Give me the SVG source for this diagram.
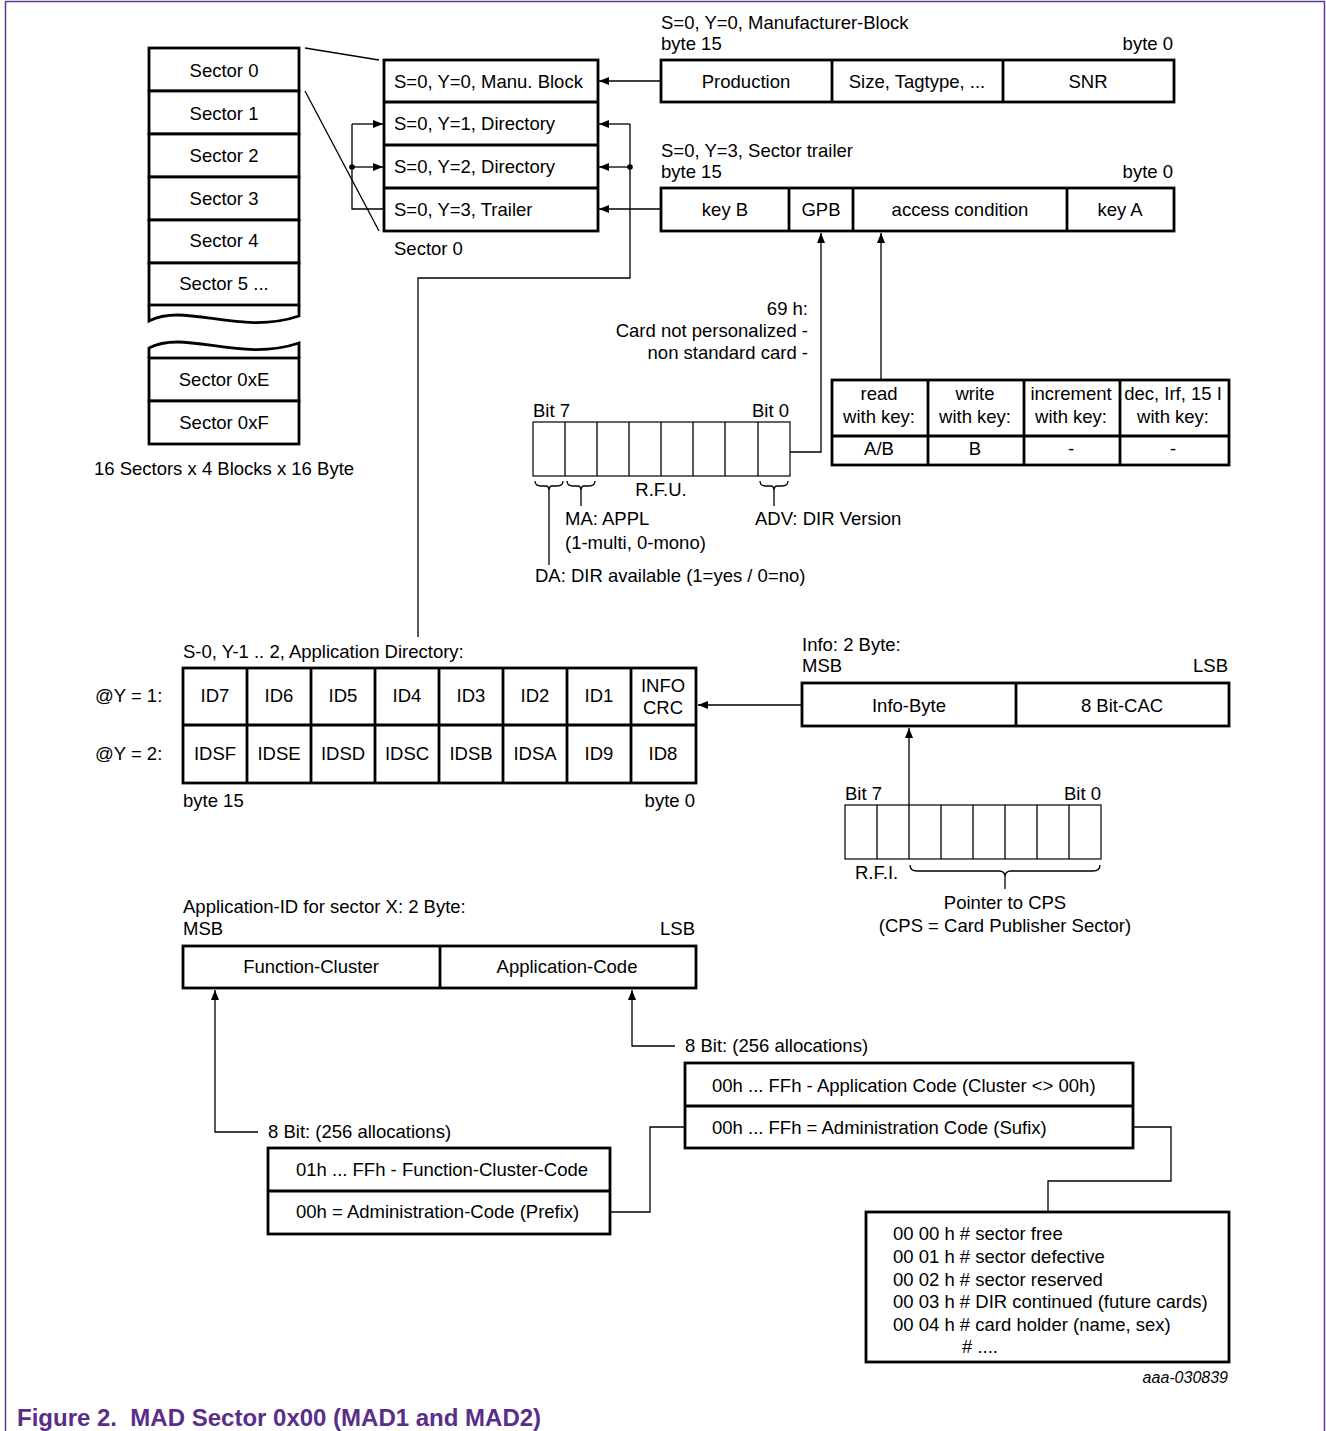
<svg xmlns="http://www.w3.org/2000/svg" width="1326" height="1431" viewBox="0 0 1326 1431">
<defs>
<marker id="ah" viewBox="0 0 10 8" refX="10" refY="4" markerWidth="10" markerHeight="8" markerUnits="userSpaceOnUse" orient="auto">
<path d="M0,0 L10,4 L0,8 Z" fill="#000"/>
</marker>
<style>
text{font-family:"Liberation Sans",Arial,sans-serif;font-size:18.5px;fill:#000}
.m{text-anchor:middle}
.e{text-anchor:end}
.bx{fill:#fff;stroke:#000;stroke-width:2.8}
.dv{stroke:#000;stroke-width:2.8;fill:none}
.th{fill:#fff;stroke:#000;stroke-width:1.2}
.ln{stroke:#000;stroke-width:1.3;fill:none}
.ar{stroke:#000;stroke-width:1.3;fill:none;marker-end:url(#ah)}
.fr{stroke:#5b3a8e;stroke-width:1.5;fill:none}
</style>
</defs>
<rect width="1326" height="1431" fill="#fff"/>
<path class="fr" d="M5.5,1431 V1.5 H1324.5 V1431"/>

<g id="connectors">
<line class="ln" x1="305" y1="48" x2="379" y2="60"/>
<line class="ln" x1="305" y1="91" x2="379" y2="231"/>
<path class="ln" d="M384,209 H352 V124"/>
<line class="ar" x1="352" y1="124" x2="383" y2="124"/>
<line class="ar" x1="352" y1="167" x2="383" y2="167"/>
<circle cx="352" cy="167" r="2.8" fill="#000"/>
<path class="ln" d="M418,637 V278 H630 V124"/>
<line class="ar" x1="630" y1="124" x2="599" y2="124"/>
<line class="ar" x1="630" y1="167" x2="599" y2="167"/>
<circle cx="630" cy="167" r="2.8" fill="#000"/>
<line class="ar" x1="661" y1="81" x2="599" y2="81"/>
<line class="ar" x1="661" y1="209" x2="599" y2="209"/>
<path class="ar" d="M790,452 H821 V233"/>
<line class="ar" x1="881" y1="380" x2="881" y2="233"/>
<line class="ar" x1="802" y1="705" x2="698" y2="705"/>
<line class="ar" x1="909" y1="805" x2="909" y2="728"/>
<path class="ar" d="M675,1046 H632 V990"/>
<path class="ar" d="M258,1132 H215 V990"/>
<path class="ln" d="M610,1212 H650 V1127 H685"/>
<path class="ln" d="M1133,1127 H1171 V1181 H1048 V1212"/>
</g>

<g id="sector-stack">
<rect class="bx" x="149" y="48" width="150" height="43"/>
<rect class="bx" x="149" y="91" width="150" height="43"/>
<rect class="bx" x="149" y="134" width="150" height="43"/>
<rect class="bx" x="149" y="177" width="150" height="43"/>
<rect class="bx" x="149" y="220" width="150" height="43"/>
<rect class="bx" x="149" y="263" width="150" height="42"/>
<path class="dv" d="M149,305 V321 C185,302 240,336 299,316 V305"/>
<path class="dv" d="M149,358 V348 C185,329 240,363 299,343 V358"/>
<rect class="bx" x="149" y="358" width="150" height="43"/>
<rect class="bx" x="149" y="401" width="150" height="43"/>
<text class="m" x="224" y="76.5">Sector 0</text>
<text class="m" x="224" y="119.5">Sector 1</text>
<text class="m" x="224" y="161.5">Sector 2</text>
<text class="m" x="224" y="204.5">Sector 3</text>
<text class="m" x="224" y="246.5">Sector 4</text>
<text class="m" x="224" y="289.5">Sector 5 ...</text>
<text class="m" x="224" y="385.5">Sector 0xE</text>
<text class="m" x="224" y="428.5">Sector 0xF</text>
<text class="m" x="224" y="474.5">16 Sectors x 4 Blocks x 16 Byte</text>
</g>

<g id="sector0-blocks">
<rect class="bx" x="384" y="60" width="214" height="171"/>
<line class="dv" x1="384" y1="102" x2="598" y2="102"/>
<line class="dv" x1="384" y1="145" x2="598" y2="145"/>
<line class="dv" x1="384" y1="188" x2="598" y2="188"/>
<text x="394" y="87.5">S=0, Y=0, Manu. Block</text>
<text x="394" y="129.5">S=0, Y=1, Directory</text>
<text x="394" y="172.5">S=0, Y=2, Directory</text>
<text x="394" y="215.5">S=0, Y=3, Trailer</text>
<text x="394" y="254.5">Sector 0</text>
</g>

<g id="manufacturer-block">
<text x="661" y="28.5">S=0, Y=0, Manufacturer-Block</text>
<text x="661" y="49.5">byte 15</text>
<text class="e" x="1173" y="49.5">byte 0</text>
<rect class="bx" x="661" y="60" width="513" height="42"/>
<line class="dv" x1="832" y1="60" x2="832" y2="102"/>
<line class="dv" x1="1003" y1="60" x2="1003" y2="102"/>
<text class="m" x="746" y="87.5">Production</text>
<text class="m" x="917" y="87.5">Size, Tagtype, ...</text>
<text class="m" x="1088" y="87.5">SNR</text>
</g>

<g id="sector-trailer">
<text x="661" y="156.5">S=0, Y=3, Sector trailer</text>
<text x="661" y="177.5">byte 15</text>
<text class="e" x="1173" y="177.5">byte 0</text>
<rect class="bx" x="661" y="188" width="513" height="43"/>
<line class="dv" x1="789" y1="188" x2="789" y2="231"/>
<line class="dv" x1="853" y1="188" x2="853" y2="231"/>
<line class="dv" x1="1067" y1="188" x2="1067" y2="231"/>
<text class="m" x="725" y="215.5">key B</text>
<text class="m" x="821" y="215.5">GPB</text>
<text class="m" x="960" y="215.5">access condition</text>
<text class="m" x="1120" y="215.5">key A</text>
</g>

<g id="gpb-note">
<text class="e" x="808" y="314.5">69 h:</text>
<text class="e" x="808" y="336.5">Card not personalized -</text>
<text class="e" x="808" y="358.5">non standard card -</text>
</g>

<g id="access-table">
<rect class="bx" x="832" y="380" width="397" height="85"/>
<line class="dv" x1="832" y1="436" x2="1229" y2="436"/>
<line class="dv" x1="928" y1="380" x2="928" y2="465"/>
<line class="dv" x1="1024" y1="380" x2="1024" y2="465"/>
<line class="dv" x1="1120" y1="380" x2="1120" y2="465"/>
<text class="m" x="879" y="400">read</text>
<text class="m" x="879" y="423">with key:</text>
<text class="m" x="975" y="400">write</text>
<text class="m" x="975" y="423">with key:</text>
<text class="m" x="1071" y="400">increment</text>
<text class="m" x="1071" y="423">with key:</text>
<text class="m" x="1173" y="400">dec, Irf, 15 I</text>
<text class="m" x="1173" y="423">with key:</text>
<text class="m" x="879" y="455">A/B</text>
<text class="m" x="975" y="455">B</text>
<text class="m" x="1071" y="455">-</text>
<text class="m" x="1173" y="455">-</text>
</g>

<g id="gpb-bits">
<text x="533" y="416.5">Bit 7</text>
<text class="e" x="789" y="416.5">Bit 0</text>
<rect class="th" x="533" y="422" width="257" height="54"/>
<path class="ln" d="M565,422V476M597,422V476M629,422V476M661,422V476M693,422V476M725,422V476M758,422V476"/>
<path class="ln" d="M535,481 Q535,486 541,486 L546,486 Q549,486 549,491 Q549,486 552,486 L557,486 Q563,486 563,481"/>
<path class="ln" d="M567,481 Q567,486 573,486 L578,486 Q581,486 581,491 Q581,486 584,486 L589,486 Q595,486 595,481"/>
<path class="ln" d="M760,481 Q760,486 766,486 L771,486 Q774,486 774,491 Q774,486 777,486 L782,486 Q788,486 788,481"/>
<line class="ln" x1="549" y1="491" x2="549" y2="565"/>
<line class="ln" x1="581" y1="491" x2="581" y2="506"/>
<line class="ln" x1="774" y1="491" x2="774" y2="506"/>
<text class="m" x="661" y="495.5">R.F.U.</text>
<text x="565" y="524.5">MA: APPL</text>
<text x="565" y="548.5">(1-multi, 0-mono)</text>
<text x="755" y="524.5">ADV: DIR Version</text>
<text x="535" y="581.5">DA: DIR available (1=yes / 0=no)</text>
</g>

<g id="application-directory">
<text x="183" y="657.5">S-0, Y-1 .. 2, Application Directory:</text>
<text x="95" y="701.5">@Y = 1:</text>
<text x="95" y="759.5">@Y = 2:</text>
<rect class="bx" x="183" y="668" width="513" height="115"/>
<line class="dv" x1="183" y1="725" x2="696" y2="725"/>
<path class="dv" d="M247,668V783M311,668V783M375,668V783M439,668V783M503,668V783M567,668V783M631,668V783"/>
<text class="m" x="215" y="701.5">ID7</text>
<text class="m" x="279" y="701.5">ID6</text>
<text class="m" x="343" y="701.5">ID5</text>
<text class="m" x="407" y="701.5">ID4</text>
<text class="m" x="471" y="701.5">ID3</text>
<text class="m" x="535" y="701.5">ID2</text>
<text class="m" x="599" y="701.5">ID1</text>
<text class="m" x="663" y="691.5">INFO</text>
<text class="m" x="663" y="713.5">CRC</text>
<text class="m" x="215" y="759.5">IDSF</text>
<text class="m" x="279" y="759.5">IDSE</text>
<text class="m" x="343" y="759.5">IDSD</text>
<text class="m" x="407" y="759.5">IDSC</text>
<text class="m" x="471" y="759.5">IDSB</text>
<text class="m" x="535" y="759.5">IDSA</text>
<text class="m" x="599" y="759.5">ID9</text>
<text class="m" x="663" y="759.5">ID8</text>
<text x="183" y="806.5">byte 15</text>
<text class="e" x="695" y="806.5">byte 0</text>
</g>

<g id="info-bytes">
<text x="802" y="650.5">Info: 2 Byte:</text>
<text x="802" y="671.5">MSB</text>
<text class="e" x="1228" y="671.5">LSB</text>
<rect class="bx" x="802" y="683" width="427" height="43"/>
<line class="dv" x1="1016" y1="683" x2="1016" y2="726"/>
<text class="m" x="909" y="711.5">Info-Byte</text>
<text class="m" x="1122" y="711.5">8 Bit-CAC</text>
</g>

<g id="info-bits">
<text x="845" y="799.5">Bit 7</text>
<text class="e" x="1101" y="799.5">Bit 0</text>
<rect class="th" x="845" y="805" width="256" height="54"/>
<path class="ln" d="M877,805V859M909,805V859M941,805V859M973,805V859M1005,805V859M1037,805V859M1069,805V859"/>
<path class="ln" d="M910,865 Q910,871 917,871 L999,871 Q1005,871 1005,877 Q1005,871 1011,871 L1093,871 Q1100,871 1100,865"/>
<line class="ln" x1="1005" y1="877" x2="1005" y2="889"/>
<text x="855" y="878.5">R.F.I.</text>
<text class="m" x="1005" y="908.5">Pointer to CPS</text>
<text class="m" x="1005" y="931.5">(CPS = Card Publisher Sector)</text>
</g>

<g id="application-id">
<text x="183" y="912.5">Application-ID for sector X: 2 Byte:</text>
<text x="183" y="934.5">MSB</text>
<text class="e" x="695" y="934.5">LSB</text>
<rect class="bx" x="183" y="946" width="513" height="42"/>
<line class="dv" x1="440" y1="946" x2="440" y2="988"/>
<text class="m" x="311" y="972.5">Function-Cluster</text>
<text class="m" x="567" y="972.5">Application-Code</text>
</g>

<g id="application-code">
<text x="685" y="1051.5">8 Bit: (256 allocations)</text>
<rect class="bx" x="685" y="1063" width="448" height="85"/>
<line class="dv" x1="685" y1="1106" x2="1133" y2="1106"/>
<text x="712" y="1091.5">00h ... FFh - Application Code (Cluster &lt;&gt; 00h)</text>
<text x="712" y="1133.5">00h ... FFh = Administration Code (Sufix)</text>
</g>

<g id="function-cluster">
<text x="268" y="1137.5">8 Bit: (256 allocations)</text>
<rect class="bx" x="268" y="1148" width="342" height="86"/>
<line class="dv" x1="268" y1="1191" x2="610" y2="1191"/>
<text x="296" y="1175.5">01h ... FFh - Function-Cluster-Code</text>
<text x="296" y="1217.5">00h = Administration-Code (Prefix)</text>
</g>

<g id="admin-codes">
<rect class="bx" x="866" y="1212" width="363" height="150"/>
<text x="893" y="1239.5">00 00 h # sector free</text>
<text x="893" y="1262.5">00 01 h # sector defective</text>
<text x="893" y="1285.5">00 02 h # sector reserved</text>
<text x="893" y="1307.5">00 03 h # DIR continued (future cards)</text>
<text x="893" y="1330.5">00 04 h # card holder (name, sex)</text>
<text x="962" y="1352.5"># ....</text>
</g>

<text class="e" x="1228" y="1383" style="font-size:16px;font-style:italic">aaa-030839</text>
<text x="17" y="1426" xml:space="preserve" style="font-size:24px;font-weight:bold;fill:#5b2d8a">Figure 2.  MAD Sector 0x00 (MAD1 and MAD2)</text>
</svg>
